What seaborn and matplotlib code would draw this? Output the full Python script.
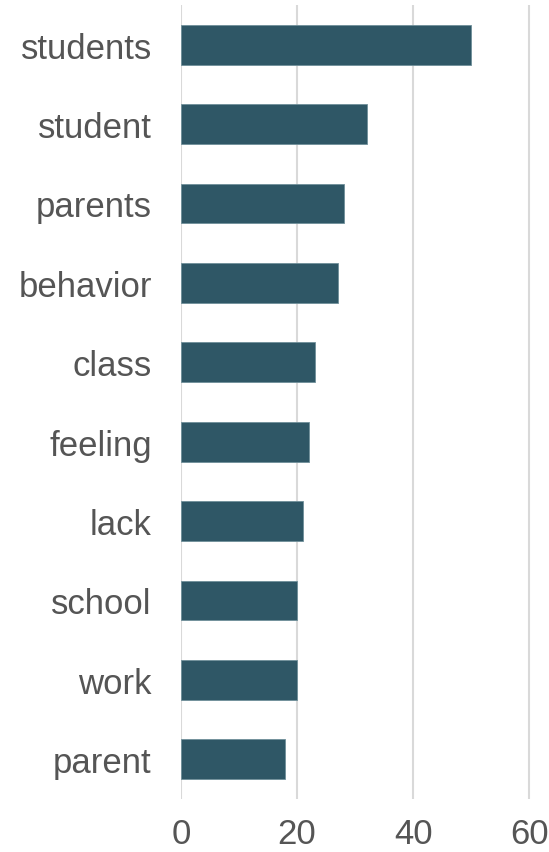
import pandas as pd
import matplotlib
matplotlib.use("Agg")
import matplotlib.pyplot as plt
import seaborn as sns

words = ['students', 'student', 'parents', 'behavior', 'class',
         'feeling', 'lack', 'school', 'work', 'parent']
counts = [50, 32, 28, 27, 23, 22, 21, 20, 20, 18]

df = pd.DataFrame({'word': words, 'n': counts})

sns.set_style('white')
plt.rcParams['font.family'] = ['Liberation Sans', 'DejaVu Sans']

fig = plt.figure(figsize=(5.49, 8.53), dpi=100)
ax = fig.add_axes([181 / 549, 53 / 853, 1 - 181 / 549, 794 / 853])

sns.barplot(data=df, x='n', y='word', color='#2f5766', width=0.5,
            saturation=1, edgecolor='#6f8f9a', linewidth=0.6, ax=ax)

ax.set_xlim(0, 63.4)
ax.set_ylim(9.5, -0.5)
ax.set_xticks([0, 20, 40, 60])
ax.xaxis.grid(True, color='#d9d9d9', linewidth=1.5)
ax.set_axisbelow(True)
for s in ax.spines.values():
    s.set_visible(False)
ax.set_xlabel('')
ax.set_ylabel('')
ax.tick_params(axis='y', length=0, pad=21, labelsize=25, labelcolor='#555555')
ax.tick_params(axis='x', length=0, pad=13, labelsize=25, labelcolor='#555555')

fig.savefig('out.png', dpi=100)
